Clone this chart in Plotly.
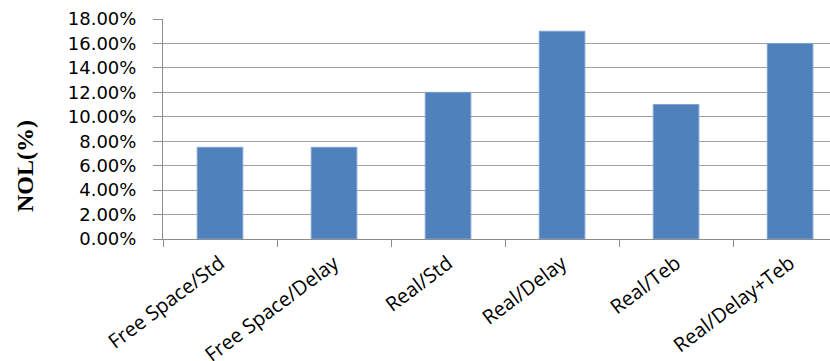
import plotly.graph_objects as go

categories = ["Free Space/Std", "Free Space/Delay", "Real/Std", "Real/Delay", "Real/Teb", "Real/Delay+Teb"]
nol_values = [0.075, 0.075, 0.12, 0.17, 0.11, 0.16]
y_tick_values = [0, 0.02, 0.04, 0.06, 0.08, 0.10, 0.12, 0.14, 0.16, 0.18]

W, H = 830, 361
L, R, T, B = 163, 0, 19, 122

fig = go.Figure(go.Bar(
    x=categories, y=nol_values, width=0.4,
    marker=dict(color="#4F81BD", line=dict(color="#7EA2CF", width=1)),
))

fig.update_layout(
    width=W, height=H,
    margin=dict(l=L, r=R, t=T, b=B, pad=0, autoexpand=False),
    paper_bgcolor="white", plot_bgcolor="white",
    showlegend=False,
    bargap=0.6,
)
fig.update_xaxes(
    range=[-0.5, 5.35],
    automargin=False,
    showgrid=False,
    showline=True, linecolor="#8c8c8c", linewidth=1,
    ticks="outside", tickson="boundaries", ticklen=7, tickcolor="#8c8c8c",
    tickangle=-37,
    tickfont=dict(family="Open Sans", size=20, color="black"),
    ticklabelstandoff=4,
)
fig.update_yaxes(
    range=[0, 0.18],
    automargin=False,
    tickvals=y_tick_values, tickformat=".2%",
    showgrid=True, gridcolor="#a0a0a0", gridwidth=1,
    showline=True, linecolor="#8c8c8c", linewidth=1,
    ticks="outside", ticklen=9, tickcolor="#8c8c8c",
    tickfont=dict(family="DejaVu Sans", size=18, color="black"),
    ticklabelstandoff=13,
    zeroline=False,
)
fig.add_annotation(
    text="<b>NOL(%)</b>", textangle=-90,
    xref="paper", yref="paper",
    x=(25 - L) / (W - L - R), y=(H - B - 166) / (H - T - B),
    showarrow=False, xanchor="center", yanchor="middle",
    font=dict(family="Liberation Serif", size=24, color="black"),
)

fig.write_html("out.html")
